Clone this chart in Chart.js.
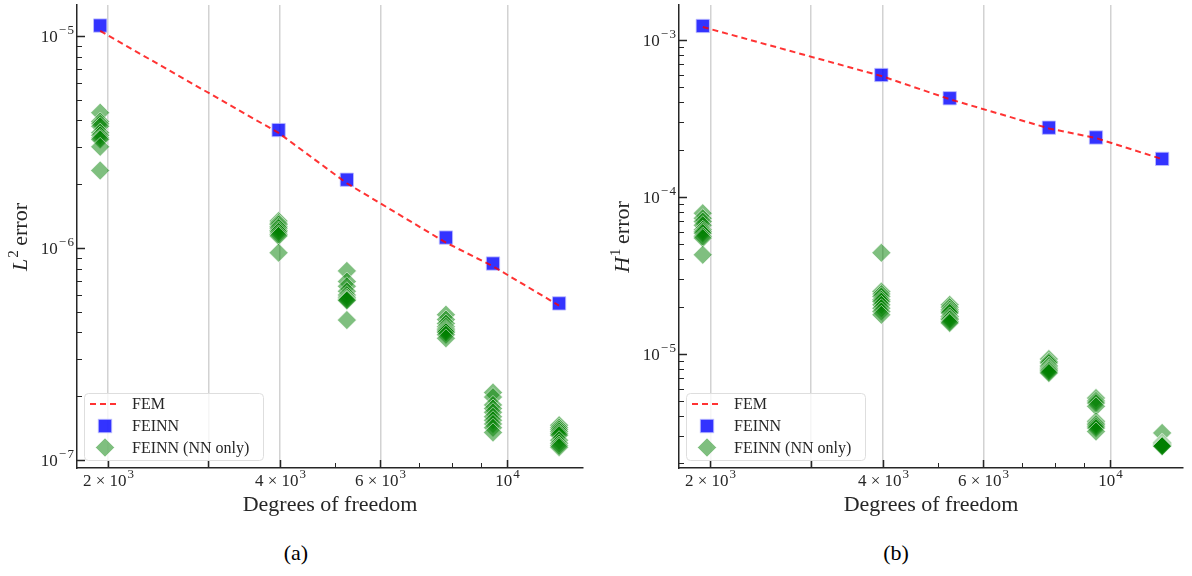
<!DOCTYPE html>
<html>
<head>
<meta charset="utf-8">
<script src="https://cdn.jsdelivr.net/npm/chart.js@4.4.0/dist/chart.umd.min.js"></script>
<style>
  html, body { margin: 0; padding: 0; background: #fff; }
  body { width: 1192px; height: 576px; overflow: hidden; position: relative; font-family: "Liberation Serif", "Times New Roman", serif; }
  .panel { position: absolute; top: 0; width: 596px; height: 530px; }
  .cap { position: absolute; top: 540px; width: 60px; line-height: 26px; font-size: 22px; text-align: center; color: #000; }
</style>
</head>
<body>
<div class="panel" style="left:0"><canvas id="chartL2" width="596" height="530"></canvas></div>
<div class="panel" style="left:596px"><canvas id="chartH1" width="596" height="530"></canvas></div>
<div class="cap" style="left:266px">(a)</div>
<div class="cap" style="left:866px">(b)</div>

<script>
// Degrees of freedom of the six meshes
const dofs = [1940, 3980, 5240, 7810, 9440, 12320];

// L2 errors
const femL2   = [1.056e-5, 3.49e-6, 2.02e-6, 1.06e-6, 8.2e-7, 5.35e-7];
const feinnL2 = [1.12e-5, 3.6e-6, 2.10e-6, 1.12e-6, 8.45e-7, 5.48e-7];
const nnOnlyL2 = [
  [4.35e-6, 3.95e-6, 3.85e-6, 3.75e-6, 3.5e-6, 3.4e-6, 3.3e-6, 3.25e-6, 3.0e-6, 2.32e-6],
  [1.34e-6, 1.31e-6, 1.29e-6, 1.26e-6, 1.24e-6, 1.21e-6, 1.19e-6, 1.16e-6, 1.14e-6, 9.5e-7],
  [7.8e-7, 6.95e-7, 6.6e-7, 6.25e-7, 6.0e-7, 5.85e-7, 5.75e-7, 5.7e-7, 5.65e-7, 4.57e-7],
  [4.85e-7, 4.6e-7, 4.4e-7, 4.25e-7, 4.15e-7, 4.1e-7, 4.05e-7, 4.0e-7, 3.9e-7, 3.75e-7],
  [2.08e-7, 1.98e-7, 1.82e-7, 1.75e-7, 1.68e-7, 1.6e-7, 1.54e-7, 1.48e-7, 1.42e-7, 1.35e-7],
  [1.46e-7, 1.42e-7, 1.39e-7, 1.36e-7, 1.33e-7, 1.31e-7, 1.24e-7, 1.2e-7, 1.17e-7, 1.15e-7]
];

// H1 errors
const femH1   = [1.21e-3, 5.89e-4, 4.19e-4, 2.73e-4, 2.37e-4, 1.74e-4];
const feinnH1 = [1.228e-3, 5.98e-4, 4.25e-4, 2.76e-4, 2.39e-4, 1.746e-4];
const nnOnlyH1 = [
  [7.87e-5, 7.31e-5, 6.96e-5, 6.6e-5, 6.17e-5, 6.0e-5, 5.87e-5, 5.6e-5, 5.46e-5, 4.27e-5],
  [4.4e-5, 2.49e-5, 2.4e-5, 2.32e-5, 2.21e-5, 2.15e-5, 2.05e-5, 1.95e-5, 1.86e-5, 1.77e-5],
  [2.05e-5, 1.98e-5, 1.91e-5, 1.86e-5, 1.82e-5, 1.73e-5, 1.68e-5, 1.65e-5, 1.6e-5, 1.57e-5],
  [9.25e-6, 8.9e-6, 8.73e-6, 8.4e-6, 8.23e-6, 8.05e-6, 7.91e-6, 7.8e-6, 7.65e-6, 7.53e-6],
  [5.22e-6, 5.0e-6, 4.85e-6, 4.62e-6, 3.71e-6, 3.6e-6, 3.53e-6, 3.45e-6, 3.36e-6, 3.2e-6],
  [3.13e-6, 2.72e-6, 2.7e-6, 2.68e-6, 2.65e-6, 2.63e-6, 2.61e-6, 2.6e-6, 2.58e-6, 2.57e-6]
];

// x axis ticks (shared)
const xTicks      = [2000, 3000, 4000, 5000, 6000, 7000, 8000, 9000, 10000];
const xTickLabels = ['2 × 10³', '', '4 × 10³', '', '6 × 10³', '', '', '', '10⁴'];
const xMajor      = [2000, 3000, 4000, 6000, 10000];

// y axis decades and their labels
const yDecadesL2 = [1e-7, 1e-6, 1e-5];
const yLabelsL2  = ['10⁻⁷', '10⁻⁶', '10⁻⁵'];
const yDecadesH1 = [1e-5, 1e-4, 1e-3];
const yLabelsH1  = ['10⁻⁵', '10⁻⁴', '10⁻³'];
const mantissas  = [1, 2, 3, 4, 5, 6, 7, 8, 9];

const SERIF = '"Liberation Serif", "Times New Roman", serif';
const INK = '#262626';
const SUP = { '⁰': '0', '¹': '1', '²': '2', '³': '3', '⁴': '4', '⁵': '5', '⁶': '6', '⁷': '7', '⁸': '8', '⁹': '9', '⁻': '−' };

function logTicks(decades, min, max) {
  const out = [];
  [decades[0] / 10, ...decades].forEach(d => mantissas.forEach(m => {
    const v = +(m * d).toPrecision(6);
    if (v >= min && v <= max) out.push(v);
  }));
  return out;
}

function near(a, b) { return Math.abs(a - b) <= 1e-9 * Math.abs(b); }

// split a label into normal and raised runs and draw them in one line
function drawLabel(ctx, text, x, y, align) {
  const runs = [];
  for (const ch of text) {
    const sup = ch in SUP;
    const c = sup ? SUP[ch] : ch;
    if (runs.length && runs[runs.length - 1].sup === sup) runs[runs.length - 1].t += c;
    else runs.push({ sup, t: c });
  }
  const fMain = '17px ' + SERIF, fSup = '13px ' + SERIF;
  let total = 0;
  runs.forEach(r => {
    ctx.font = r.sup ? fSup : fMain;
    r.w = ctx.measureText(r.t).width + (r.sup ? 1 : 0) + (r.sup && r.t.length > 1 ? 1.5 : 0);
    total += r.w;
  });
  let cx = align === 'right' ? x - total : x - total / 2;
  ctx.textAlign = 'left';
  ctx.textBaseline = 'middle';
  runs.forEach(r => {
    if (r.sup) {
      ctx.font = fSup;
      let sx = cx + 1;
      for (const ch of r.t) {
        ctx.fillText(ch, sx, y - 7);
        sx += ctx.measureText(ch).width + (ch === '−' ? 1.5 : 0);
      }
    } else {
      ctx.font = fMain;
      ctx.fillText(r.t, cx, y);
    }
    cx += r.w;
  });
}

// draws inward ticks, tick labels, axis titles and the legend box
const decorations = {
  id: 'decorations',
  afterDatasetsDraw(chart, args, o) {
    const ctx = chart.ctx;
    const xs = chart.scales.x, ys = chart.scales.y;
    const a = chart.chartArea;
    ctx.save();
    ctx.strokeStyle = INK;
    ctx.fillStyle = INK;
    // x ticks and labels
    xTicks.forEach((v, i) => {
      const px = Math.round(xs.getPixelForValue(v)) + 0.5;
      const major = xMajor.includes(v);
      ctx.lineWidth = major ? 1.5 : 1;
      ctx.beginPath();
      ctx.moveTo(px, a.bottom);
      ctx.lineTo(px, a.bottom - (major ? 8 : 5));
      ctx.stroke();
      if (xTickLabels[i]) drawLabel(ctx, xTickLabels[i], px, a.bottom + 14, 'center');
    });
    // y ticks and labels
    o.yTicks.forEach(v => {
      const py = Math.round(ys.getPixelForValue(v)) + 0.5;
      const k = o.yDecades.findIndex(d => near(d, v));
      const major = k >= 0;
      ctx.lineWidth = major ? 1.5 : 1;
      ctx.beginPath();
      ctx.moveTo(a.left, py);
      ctx.lineTo(a.left + (major ? 8 : 5), py);
      ctx.stroke();
      if (major) drawLabel(ctx, o.yLabels[k], a.left - 3, py + 1, 'right');
    });

    // x axis title
    ctx.font = '22px ' + SERIF;
    ctx.textAlign = 'center';
    ctx.textBaseline = 'middle';
    ctx.fillText('Degrees of freedom', (a.left + a.right) / 2, 505);

    // y axis title: italic letter, superscript, then word
    ctx.save();
    ctx.translate(o.yTitleX, 237);
    ctx.rotate(-Math.PI / 2);
    ctx.textAlign = 'left';
    ctx.textBaseline = 'alphabetic';
    const fBig = '22px ' + SERIF, fIt = 'italic 22px ' + SERIF, fSup = '15px ' + SERIF;
    ctx.font = fIt; const w1 = ctx.measureText(o.yLetter).width;
    ctx.font = fSup; const w2 = ctx.measureText(o.ySup).width;
    ctx.font = fBig; const w3 = ctx.measureText(' error').width;
    let x0 = -(w1 + w2 + w3) / 2;
    const base = 7;
    ctx.font = fIt; ctx.fillText(o.yLetter, x0, base); x0 += w1 + 1;
    ctx.font = fSup; ctx.fillText(o.ySup, x0, base - 9); x0 += w2 - 1;
    ctx.font = fBig; ctx.fillText(' error', x0, base);
    ctx.restore();

    // legend
    const lx = a.left + 7, ly = 393, lw = 179, lh = 67;
    ctx.beginPath();
    ctx.roundRect(lx + 0.5, ly + 0.5, lw, lh, 4);
    ctx.fillStyle = 'rgba(255,255,255,0.8)';
    ctx.fill();
    ctx.strokeStyle = '#dedede';
    ctx.lineWidth = 1;
    ctx.stroke();

    const mx = lx + 21, tx = lx + 48;
    const rows = [404, 426, 447.5];
    // FEM line sample
    ctx.save();
    ctx.strokeStyle = 'rgba(255,0,0,0.8)';
    ctx.lineWidth = 2;
    ctx.setLineDash([6, 4]);
    ctx.beginPath();
    ctx.moveTo(lx + 6, rows[0]);
    ctx.lineTo(lx + 36, rows[0]);
    ctx.stroke();
    ctx.restore();
    // FEINN square sample
    ctx.fillStyle = 'rgba(0,0,255,0.8)';
    ctx.fillRect(mx - 6.7, rows[1] - 6.7, 13.4, 13.4);
    ctx.strokeStyle = 'rgba(190,190,255,0.8)';
    ctx.strokeRect(mx - 6.7, rows[1] - 6.7, 13.4, 13.4);
    // NN-only diamond sample
    ctx.beginPath();
    ctx.moveTo(mx - 9.5, rows[2]);
    ctx.lineTo(mx, rows[2] - 9.5);
    ctx.lineTo(mx + 9.5, rows[2]);
    ctx.lineTo(mx, rows[2] + 9.5);
    ctx.closePath();
    ctx.fillStyle = 'rgba(0,128,0,0.5)';
    ctx.fill();
    ctx.strokeStyle = 'rgba(255,255,255,0.55)';
    ctx.stroke();

    ctx.fillStyle = INK;
    ctx.font = '16px ' + SERIF;
    ctx.textAlign = 'left';
    ctx.textBaseline = 'middle';
    ['FEM', 'FEINN', 'FEINN (NN only)'].forEach((t, i) => ctx.fillText(t, tx, rows[i] + 1));
    ctx.restore();
  }
};

function makeChart(id, fem, feinn, nnOnly, cfg) {
  const yTicks = logTicks(cfg.yDecades, cfg.yMin, cfg.yMax);
  const nnPoints = [];
  dofs.forEach((d, i) => nnOnly[i].forEach(v => nnPoints.push({ x: d, y: v })));

  return new Chart(document.getElementById(id), {
    type: 'scatter',
    data: {
      datasets: [
        {
          label: 'FEM',
          data: dofs.map((d, i) => ({ x: d, y: fem[i] })),
          showLine: true,
          borderColor: 'rgba(255,0,0,0.8)',
          borderWidth: 2,
          borderDash: [6, 4],
          pointRadius: 0,
          order: 0
        },
        {
          label: 'FEINN',
          data: dofs.map((d, i) => ({ x: d, y: feinn[i] })),
          pointStyle: 'rect',
          pointRadius: 9.4,
          backgroundColor: 'rgba(0,0,255,0.8)',
          borderColor: 'rgba(190,190,255,0.8)',
          borderWidth: 1,
          order: 1
        },
        {
          label: 'FEINN (NN only)',
          data: nnPoints,
          pointStyle: 'rectRot',
          pointRadius: 9.5,
          backgroundColor: 'rgba(0,128,0,0.5)',
          borderColor: 'rgba(255,255,255,0.55)',
          borderWidth: 1,
          order: 2
        }
      ]
    },
    options: {
      responsive: false,
      animation: false,
      devicePixelRatio: 1,
      layout: { autoPadding: false, padding: { left: 0, top: 5, right: cfg.padRight, bottom: 0 } },
      plugins: {
        legend: { display: false },
        tooltip: { enabled: false },
        decorations: {
          yTicks: yTicks,
          yDecades: cfg.yDecades,
          yLabels: cfg.yLabels,
          yLetter: cfg.yLetter,
          ySup: cfg.ySup,
          yTitleX: cfg.yTitleX
        }
      },
      scales: {
        x: {
          type: 'logarithmic',
          min: cfg.xMin,
          max: cfg.xMax,
          bounds: 'data',
          afterBuildTicks: s => { s.ticks = xTicks.map(v => ({ value: v })); },
          afterFit: s => { s.height = 62; },
          grid: {
            drawTicks: false,
            lineWidth: 1.5,
            color: c => (c.tick && xMajor.includes(c.tick.value)) ? '#d2d2d2' : 'rgba(0,0,0,0)'
          },
          border: { display: true, color: INK, width: 1.5 },
          ticks: { display: false, autoSkip: false, maxRotation: 0, minRotation: 0 }
        },
        y: {
          type: 'logarithmic',
          min: cfg.yMin,
          max: cfg.yMax,
          bounds: 'data',
          afterBuildTicks: s => { s.ticks = yTicks.map(v => ({ value: v })); },
          afterFit: s => { s.width = cfg.yWidth; },
          grid: { drawTicks: false, drawOnChartArea: false },
          border: { display: true, color: INK, width: 1.5 },
          ticks: { display: false, autoSkip: false }
        }
      }
    },
    plugins: [decorations]
  });
}

makeChart('chartL2', femL2, feinnL2, nnOnlyL2, {
  xMin: 1767, xMax: 13565,
  yMin: 9.17e-8, yMax: 1.40e-5,
  yDecades: yDecadesL2, yLabels: yLabelsL2,
  yWidth: 77, padRight: 13,
  yLetter: 'L', ySup: '2', yTitleX: 20
});

makeChart('chartH1', femH1, feinnH1, nnOnlyH1, {
  xMin: 1763, xMax: 13398,
  yMin: 1.87e-6, yMax: 1.67e-3,
  yDecades: yDecadesH1, yLabels: yLabelsH1,
  yWidth: 83, padRight: 9,
  yLetter: 'H', ySup: '1', yTitleX: 26
});
</script>
</body>
</html>
